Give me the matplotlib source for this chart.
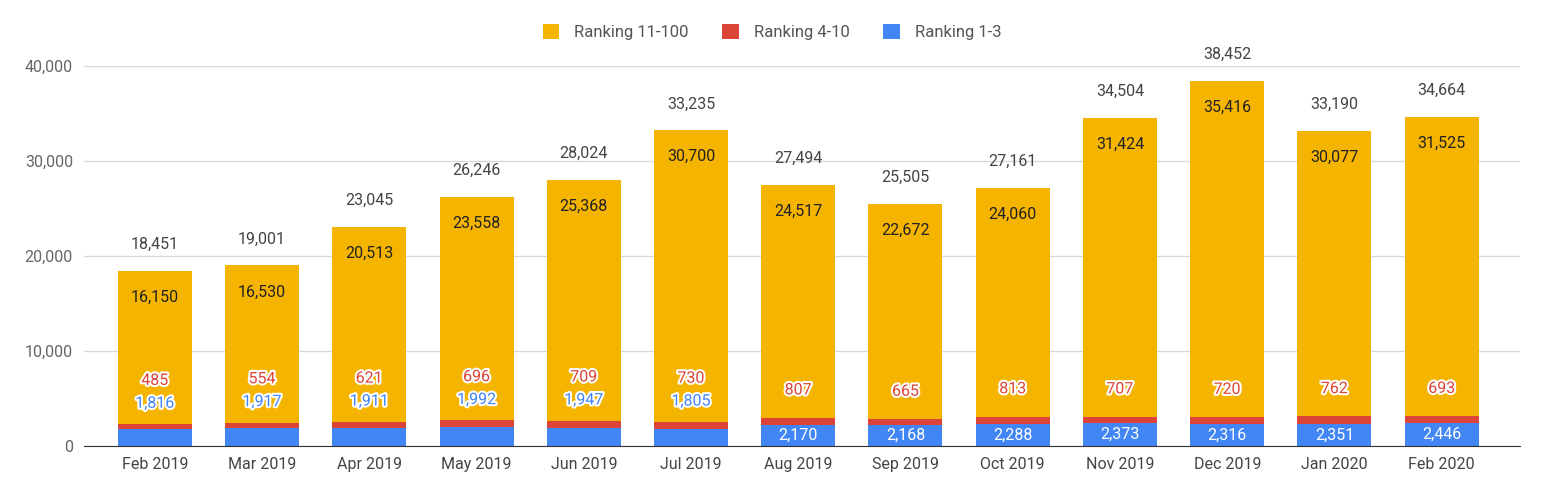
import matplotlib.pyplot as plt
import matplotlib.patheffects as pe
import numpy as np

months = ['Feb 2019', 'Mar 2019', 'Apr 2019', 'May 2019', 'Jun 2019', 'Jul 2019',
          'Aug 2019', 'Sep 2019', 'Oct 2019', 'Nov 2019', 'Dec 2019', 'Jan 2020', 'Feb 2020']
rank_1_3 = [1816, 1917, 1911, 1992, 1947, 1805, 2170, 2168, 2288, 2373, 2316, 2351, 2446]
rank_4_10 = [485, 554, 621, 696, 709, 730, 807, 665, 813, 707, 720, 762, 693]
rank_11_100 = [16150, 16530, 20513, 23558, 25368, 30700, 24517, 22672, 24060, 31424, 35416, 30077, 31525]

YELLOW = '#F4B400'
RED = '#DB4437'
BLUE = '#4285F4'

plt.rcParams['font.family'] = ['Roboto', 'DejaVu Sans']

fig = plt.figure(figsize=(15.44, 4.99), dpi=100)
ax = fig.add_axes([84 / 1544, 1 - 446 / 499, (1520 - 84) / 1544, 380 / 499])

x = np.arange(len(months))
a = np.array(rank_1_3)
b = np.array(rank_4_10)
c = np.array(rank_11_100)
w = 0.69

ax.bar(x, a, w, color=BLUE, label='Ranking 1-3', zorder=2)
ax.bar(x, b, w, bottom=a, color=RED, label='Ranking 4-10', zorder=2)
ax.bar(x, c, w, bottom=a + b, color=YELLOW, label='Ranking 11-100', zorder=2)

outline = [pe.withStroke(linewidth=3, foreground='white')]
fs = 11.5
for i in x:
    tot = a[i] + b[i] + c[i]
    ax.annotate(f'{tot:,}', (i, tot), xytext=(0, 19), textcoords='offset points',
                ha='center', va='center', fontsize=fs, color='#444444', zorder=4)
    ax.annotate(f'{c[i]:,}', (i, tot), xytext=(0, -19), textcoords='offset points',
                ha='center', va='center', fontsize=fs, color='#222222', zorder=4)
    top_red = a[i] + b[i]
    if a[i] >= 2000:
        ax.annotate(f'{a[i]:,}', (i, a[i] / 2), ha='center', va='center',
                    fontsize=fs, color='white', zorder=4)
        ax.annotate(f'{b[i]:,}', (i, top_red), xytext=(0, 20), textcoords='offset points',
                    ha='center', va='center', fontsize=fs, color=RED,
                    path_effects=outline, zorder=4)
    else:
        ax.annotate(f'{a[i]:,}', (i, top_red), xytext=(0, 15), textcoords='offset points',
                    ha='center', va='center', fontsize=fs, color=BLUE,
                    path_effects=outline, zorder=4)
        ax.annotate(f'{b[i]:,}', (i, top_red), xytext=(0, 31.5), textcoords='offset points',
                    ha='center', va='center', fontsize=fs, color=RED,
                    path_effects=outline, zorder=4)

ax.set_xlim(-0.66, 12.73)
ax.set_ylim(0, 40000)
ax.set_yticks([0, 10000, 20000, 30000, 40000])
ax.set_yticklabels(['0', '10,000', '20,000', '30,000', '40,000'])
ax.set_xticks(x)
ax.set_xticklabels(months)
ax.tick_params(axis='both', length=0, labelsize=11.5, labelcolor='#666666', pad=8)
ax.tick_params(axis='x', labelcolor='#444444', pad=8)
ax.grid(axis='y', color='#d9d9d9', linewidth=1, zorder=0)
for s in ['top', 'right', 'left']:
    ax.spines[s].set_visible(False)
ax.spines['bottom'].set_color('#333333')
ax.spines['bottom'].set_zorder(3)

h, l = ax.get_legend_handles_labels()
fig.legend(h[::-1], l[::-1], loc='center', bbox_to_anchor=(0.5, 1 - 32 / 499), ncol=3,
           frameon=False, fontsize=12, labelcolor='#555555', handlelength=1.0,
           handleheight=1.0, columnspacing=2.0, handletextpad=0.9)

fig.savefig('out.png', dpi=100, facecolor='white')
